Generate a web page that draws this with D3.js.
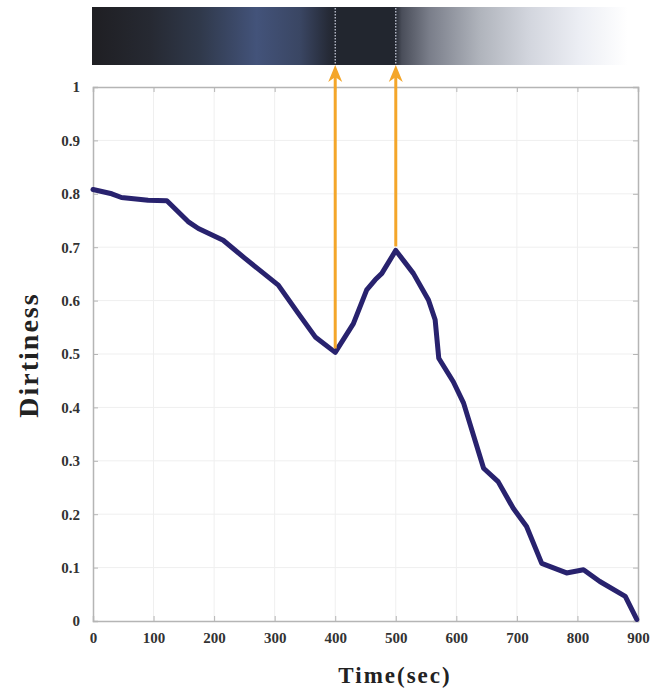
<!DOCTYPE html>
<html><head><meta charset="utf-8">
<script src="https://cdn.jsdelivr.net/npm/d3@7"></script>
<style>body{margin:0;background:#fff}svg{display:block}</style>
</head><body>
<svg id="c" width="667" height="690"></svg>
<script>
const times = [0,31,47,91,122,157,174,215,251,306,339,367,400,430,452,466,477,500,529,554,565,571,595,612,645,669,694,716,741,782,810,837,879,898];
const dirtiness = [0.808,0.80,0.793,0.788,0.787,0.748,0.735,0.713,0.679,0.629,0.576,0.532,0.503,0.557,0.62,0.639,0.651,0.694,0.651,0.601,0.564,0.492,0.448,0.408,0.286,0.261,0.211,0.177,0.108,0.09,0.096,0.074,0.046,0.003];
const xTicks = [0,100,200,300,400,500,600,700,800,900];
const yTicks = [0,0.1,0.2,0.3,0.4,0.5,0.6,0.7,0.8,0.9,1];
const markTimes = [400,500];
const markValues = [0.503,0.694];
const barStopTimes = [0,94,177,270,342,388,400,498,510,556,639,722,804,883];
const barStopColors = ["#1f1f23","#262932","#30394b","#43537a","#3a4663","#262b38","#22262f","#22262f","#4a4e5a","#7a7e8a","#b0b4bc","#d3d6de","#eceef4","#ffffff"];

const svg = d3.select("#c");
const m = {l:93, r:638, t:87, b:621};
const x = d3.scaleLinear().domain([0,900]).range([m.l,m.r]);
const y = d3.scaleLinear().domain([0,1]).range([m.b,m.t]);
const serif = "'Liberation Serif','Times New Roman',serif";

// colour bar
const defs = svg.append("defs");
const barEnd = 883;
const grad = defs.append("linearGradient").attr("id","g")
  .attr("gradientUnits","userSpaceOnUse").attr("x1",x(0)).attr("x2",x(barEnd)).attr("y1",0).attr("y2",0);
barStopTimes.forEach((t,i)=>grad.append("stop").attr("offset",t/barEnd).attr("stop-color",barStopColors[i]));
svg.append("rect").attr("x",x(0)-1).attr("y",7).attr("width",x(barEnd)-x(0)+1).attr("height",58).attr("fill","url(#g)");
markTimes.forEach(t=>{
  svg.append("line").attr("x1",x(t)).attr("x2",x(t)).attr("y1",8).attr("y2",65)
    .attr("stroke","#cfd4e4").attr("stroke-width",1.2).attr("stroke-dasharray","1.5,1.5");
});

// grid
const g = svg.append("g");
g.selectAll(".gx").data(xTicks.slice(1,-1)).join("line")
  .attr("x1",d=>x(d)).attr("x2",d=>x(d)).attr("y1",m.t).attr("y2",m.b).attr("stroke","#efefef").attr("stroke-width",1);
g.selectAll(".gy").data(yTicks.slice(1,-1)).join("line")
  .attr("y1",d=>y(d)).attr("y2",d=>y(d)).attr("x1",m.l).attr("x2",m.r).attr("stroke","#efefef").attr("stroke-width",1);

// axes
const ax = svg.append("g").attr("transform",`translate(0,${m.b})`)
  .call(d3.axisBottom(x).tickValues(xTicks).tickSize(-5).tickPadding(11).tickFormat(d3.format("d")));
const axT = svg.append("g").attr("transform",`translate(0,${m.t})`)
  .call(d3.axisTop(x).tickValues(xTicks).tickSize(-5).tickFormat(""));
const ay = svg.append("g").attr("transform",`translate(${m.l},0)`)
  .call(d3.axisLeft(y).tickValues(yTicks).tickSize(-5).tickPadding(13).tickFormat(d=>d===0?"0":d===1?"1":d3.format(".1f")(d)));
const ayR = svg.append("g").attr("transform",`translate(${m.r},0)`)
  .call(d3.axisRight(y).tickValues(yTicks).tickSize(-5).tickFormat(""));
[ax,axT,ay,ayR].forEach(a=>{
  a.select(".domain").attr("stroke","#b5b5b5").attr("stroke-width",1.5);
  a.selectAll(".tick line").attr("stroke","#b5b5b5");
  a.selectAll(".tick text").attr("font-family",serif).attr("font-weight","bold").attr("font-size",15).attr("fill","#333");
});

// curve
svg.append("path").datum(times.map((t,i)=>[t,dirtiness[i]]))
  .attr("d",d3.line().x(d=>x(d[0])).y(d=>y(d[1])))
  .attr("fill","none").attr("stroke","#28226e").attr("stroke-width",5).attr("stroke-linejoin","round").attr("stroke-linecap","round");

// arrows
markTimes.forEach((t,i)=>{
  const cx = x(t);
  svg.append("line").attr("x1",cx).attr("x2",cx).attr("y1",y(markValues[i])-4).attr("y2",76)
    .attr("stroke","#f4a62a").attr("stroke-width",3);
  svg.append("path").attr("d",`M${cx},65 L${cx-7},82 L${cx},77 L${cx+7},82 Z`).attr("fill","#f4a62a");
});

// labels
svg.append("text").attr("x",395).attr("y",683).attr("text-anchor","middle")
  .attr("font-family",serif).attr("font-weight","bold").attr("font-size",23).attr("fill","#222").attr("letter-spacing",2).text("Time(sec)");
svg.append("text").attr("transform","translate(38,355) rotate(-90)").attr("text-anchor","middle")
  .attr("font-family",serif).attr("font-weight","bold").attr("font-size",28).attr("fill","#222").attr("letter-spacing",2).text("Dirtiness");
</script>
</body></html>
